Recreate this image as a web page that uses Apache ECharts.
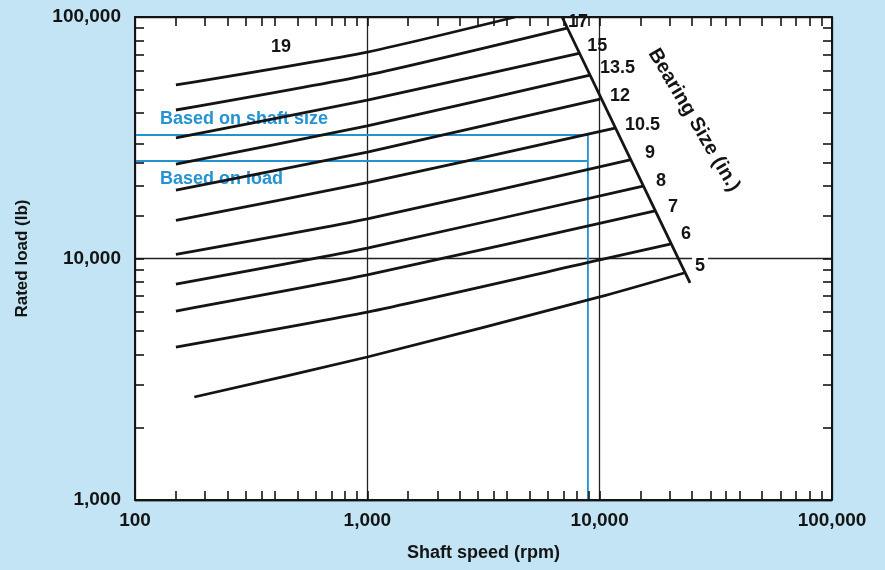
<!DOCTYPE html>
<html><head><meta charset="utf-8">
<script src="https://cdn.jsdelivr.net/npm/echarts@6/dist/echarts.min.js"></script>
<style>html,body{margin:0;padding:0;background:#c2e4f4}#c{width:885px;height:570px}</style>
</head><body><div id="c"></div>
<script>
// ---- data ----
const sizes       = ['19','17','15','13.5','12','10.5','9','8','7','6','5'];
const startSpeed  = [150,150,150,150,150,150,150,150,150,150,180];
const loadAtStart = [52300,41200,31600,24600,19200,14400,10400,7840,6060,4300,2670];
const loadAt1000  = [71600,57500,45300,35400,27600,20600,14600,11050,8550,6000,3910];
const loadAt10000 = [null,null,null,null,null,null,null,null,null,9860,6930];
const endSpeed    = [4330,7240,8240,9090,10040,11650,13520,15380,17320,20100,23080];
const loadAtEnd   = [100000,90000,70900,57500,45750,34700,25600,19960,15730,11480,8710];
const limitSpeed  = [6890, 24490];
const limitLoad   = [100000, 7920];
const selectedSpeed = 8900;
const shaftSizeLoad = 32460;
const ratedLoad     = 25330;
const xMajor = [100, 1000, 10000, 100000];
const yMajor = [1000, 10000, 100000];
const xMinorSteps = [1.5,2,2.5,3,3.5,4,5,6,7,8,9];
const yMinorStepsUpper = [1.5,2,2.5,3,4,5,6,7,8,9];
const yMinorStepsLower = [2,3,4,5,6,7,8,9];

const xTicks = xMajor.concat(...xMajor.slice(0,3).map(d => xMinorSteps.map(s => s*d)));
const yTicks = yMajor.concat(yMinorStepsLower.map(s => s*1000), yMinorStepsUpper.map(s => s*10000));

const FONT = 'Liberation Sans';
const INK = '#141414';
const BLUE = '#2592d2';
const fmt = v => Math.round(v).toLocaleString('en-US');

const labelOffsets = [null,[-3,-6],[3,-7],[6,-7],[6,-3],[6,-3],[11,-7],[9,-5],[9,-4],[7,-10],[4,-7]];

const series = sizes.map((s, i) => {
  const pts = [[startSpeed[i], loadAtStart[i]], [1000, loadAt1000[i]]];
  if (loadAt10000[i] != null) pts.push([10000, loadAt10000[i]]);
  pts.push([endSpeed[i], loadAtEnd[i]]);
  return {
    type: 'line', name: s, data: pts, symbol: 'none', smooth: 0.2, clip: true,
    lineStyle: {color: INK, width: 2.8}, z: 3, silent: true,
    endLabel: labelOffsets[i] ? {
      show: true, formatter: s, color: INK, fontSize: 18, fontWeight: 'bold', fontFamily: FONT,
      distance: 4, offset: labelOffsets[i],
      backgroundColor: s === '5' ? '#fff' : 'transparent', padding: s === '5' ? [2,3] : 0
    } : {show: false}
  };
});
series.push({
  type: 'line', name: 'limit', data: limitSpeed.map((v, i) => [v, limitLoad[i]]),
  symbol: 'none', lineStyle: {color: INK, width: 2.8}, z: 3, silent: true
});
series.push({
  type: 'line', name: 'shaft', data: [[100, shaftSizeLoad], [selectedSpeed, shaftSizeLoad], [selectedSpeed, 1000]],
  symbol: 'none', lineStyle: {color: BLUE, width: 1.8}, z: 2, silent: true
});
series.push({
  type: 'line', name: 'load', data: [[100, ratedLoad], [selectedSpeed, ratedLoad]],
  symbol: 'none', lineStyle: {color: BLUE, width: 1.8}, z: 2, silent: true
});

const tickStyle = {show: true, inside: true, length: 9, lineStyle: {color: INK, width: 1.6}};
const axisLineStyle = {show: true, onZero: false, lineStyle: {color: INK, width: 2}};
const labelStyle = {color: INK, fontSize: 19, fontWeight: 'bold', fontFamily: FONT};
const gridLineAxis = {axisLine: {show: false}, axisTick: {show: false}, axisLabel: {show: false},
  splitLine: {show: true, lineStyle: {color: '#222', width: 1.3}}};

const option = {
  backgroundColor: '#c2e4f4',
  animation: false,
  grid: {left: 135, right: 53, top: 17, bottom: 70, show: true, backgroundColor: '#fff', borderWidth: 0},
  xAxis: [
    {type: 'log', logBase: 10, min: 100, max: 100000, position: 'bottom', z: 4,
     axisLine: axisLineStyle, axisTick: Object.assign({customValues: xTicks}, tickStyle),
     axisLabel: Object.assign({margin: 11, formatter: fmt}, labelStyle),
     splitLine: {show: false},
     name: 'Shaft speed (rpm)', nameLocation: 'middle', nameGap: 44,
     nameTextStyle: {color: INK, fontSize: 18, fontWeight: 'bold', fontFamily: FONT}},
    {type: 'log', logBase: 10, min: 100, max: 100000, position: 'top', z: 4,
     axisLine: axisLineStyle, axisTick: Object.assign({customValues: xTicks}, tickStyle),
     axisLabel: {show: false}, splitLine: {show: false}},
    Object.assign({type: 'log', logBase: 10, min: 100, max: 100000, position: 'bottom'}, gridLineAxis)
  ],
  yAxis: [
    {type: 'log', logBase: 10, min: 1000, max: 100000, position: 'left', z: 4,
     axisLine: axisLineStyle, axisTick: Object.assign({customValues: yTicks}, tickStyle),
     axisLabel: Object.assign({margin: 14, formatter: fmt}, labelStyle),
     splitLine: {show: false},
     name: 'Rated load (lb)', nameLocation: 'middle', nameGap: 104,
     nameTextStyle: {color: INK, fontSize: 17, fontWeight: 'bold', fontFamily: FONT}},
    {type: 'log', logBase: 10, min: 1000, max: 100000, position: 'right', z: 4,
     axisLine: axisLineStyle, axisTick: Object.assign({customValues: yTicks}, tickStyle),
     axisLabel: {show: false}, splitLine: {show: false}},
    Object.assign({type: 'log', logBase: 10, min: 1000, max: 100000, position: 'left'}, gridLineAxis)
  ],
  graphic: [
    {type: 'text', x: 281, y: 47, z: 5, style: {text: '19', fill: INK, font: 'bold 18px ' + FONT, textAlign: 'center', textVerticalAlign: 'middle'}},
    {type: 'text', x: 160, y: 119, z: 1, style: {text: 'Based on shaft size', fill: BLUE, font: 'bold 18px ' + FONT, textAlign: 'left', textVerticalAlign: 'middle'}},
    {type: 'text', x: 160, y: 179, z: 1, style: {text: 'Based on load', fill: BLUE, font: 'bold 18px ' + FONT, textAlign: 'left', textVerticalAlign: 'middle'}},
    {type: 'text', x: 694, y: 120, rotation: -59.5 * Math.PI / 180, z: 5,
     style: {text: 'Bearing Size (in.)', fill: INK, font: 'bold 20px ' + FONT, textAlign: 'center', textVerticalAlign: 'middle'}}
  ],
  series: series
};
const chart = echarts.init(document.getElementById('c'), null, {renderer: 'canvas'});
chart.setOption(option);
</script></body></html>
